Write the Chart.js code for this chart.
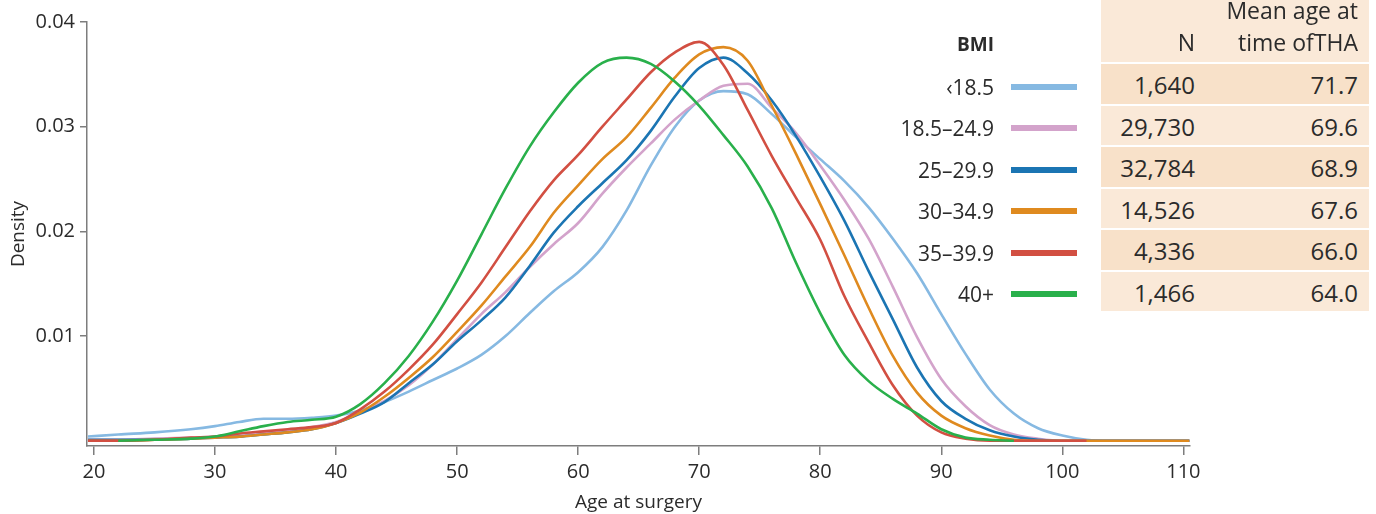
<!DOCTYPE html>
<html>
<head>
<meta charset="utf-8">
<script src="https://cdn.jsdelivr.net/npm/chart.js@4.4.1/dist/chart.umd.min.js"></script>
<style>
  body { margin: 0; background: #fff; }
  #wrap { position: relative; width: 1376px; height: 514px; font-family: 'Open Sans', sans-serif; color: #2b2b2b; }
  #c { position: absolute; left: 0; top: 0; }
  .lg-head { position: absolute; right: 382px; top: 28px; font-size: 19px; font-weight: bold; line-height: 32px; }
  .lg-row { position: absolute; left: 860px; width: 220px; height: 40px; display: flex; align-items: center; }
  .lg-row .lbl { width: 134px; text-align: right; font-size: 21px; }
  .lg-row .sw { margin-left: 17px; width: 66px; height: 6px; }
  .tb { position: absolute; left: 1101px; width: 268px; display: flex; font-size: 24px; }
  .tb .n { width: 94px; text-align: right; }
  .tb .m { width: 163px; text-align: right; }
  .tb-head { top: 0; height: 62px; background: #fae9d8; overflow: hidden; font-size: 23px; }
  .tb-head div { line-height: 32px; margin-top: -6px; }
</style>
</head>
<body>
<div id="wrap">
  <canvas id="c" width="1376" height="514"></canvas>
</div>
<script>
// ─── data ──────────────────────────────────────────────────────────────────
const ages = [19.5, 22, 25, 28, 30, 32, 34, 36, 38, 40, 42, 44, 46, 48, 50, 52, 54, 56, 58, 60,
  62, 64, 66, 68, 70, 72, 74, 76, 78, 80, 82, 84, 86, 88, 90, 92, 94, 96, 98, 100, 102, 104, 106, 108, 110.5];

const bmiUnder185 = [.0004, .0006, .0008, .0011, .0014, .0018, .0021, .0021, .0022, .0024, .0029, .0037, .0047, .0058, .0069, .0082, .0100, .0122, .0143, .0161,
  .0185, .0220, .0263, .0300, .0325, .0334, .0331, .0312, .0290, .0269, .0248, .0223, .0193, .0160, .0121, .0083, .0049, .0026, .0012, .0005, .0001, 0, 0, 0, 0];
const bmi185to249 = [.0001, .0001, .0002, .0003, .0004, .0006, .0008, .0010, .0013, .0018, .0027, .0038, .0053, .0073, .0097, .0121, .0142, .0166, .0188, .0208,
  .0236, .0261, .0284, .0307, .0325, .0339, .0341, .0318, .0294, .0263, .0230, .0193, .0147, .0099, .0059, .0033, .0015, .0006, .0002, 0, 0, 0, 0, 0, 0];
const bmi25to299 = [.0001, .0001, .0001, .0002, .0003, .0004, .0006, .0008, .0011, .0017, .0026, .0037, .0055, .0073, .0095, .0115, .0137, .0167, .0199, .0224,
  .0246, .0268, .0296, .0329, .0356, .0366, .0351, .0325, .0291, .0252, .0210, .0162, .0116, .0070, .0038, .0021, .0010, .0004, .0001, 0, 0, 0, 0, 0, 0];
const bmi30to349 = [0, 0, .0001, .0002, .0003, .0004, .0006, .0008, .0011, .0017, .0027, .0042, .0060, .0080, .0104, .0129, .0157, .0185, .0218, .0244,
  .0269, .0290, .0318, .0347, .0369, .0376, .0363, .0320, .0274, .0226, .0177, .0127, .0081, .0046, .0024, .0012, .0005, .0001, 0, 0, 0, 0, 0, 0, 0];
const bmi35to399 = [0, 0, .0001, .0003, .0004, .0007, .0009, .0011, .0013, .0017, .0030, .0047, .0068, .0092, .0121, .0151, .0185, .0219, .0249, .0273,
  .0300, .0326, .0352, .0371, .0381, .0359, .0316, .0272, .0232, .0192, .0138, .0094, .0053, .0024, .0008, .0002, 0, 0, 0, 0, 0, null, null, null, null];
const bmi40plus = [null, 0, .0001, .0002, .0004, .0009, .0014, .0018, .0020, .0023, .0035, .0055, .0081, .0114, .0153, .0197, .0241, .0281, .0314, .0342,
  .0361, .0366, .0360, .0343, .0320, .0292, .0262, .0222, .0170, .0122, .0082, .0057, .0040, .0026, .0011, .0003, .0001, 0, null, null, null, null, null, null, null];

const bmiGroups = ['‹18.5', '18.5–24.9', '25–29.9', '30–34.9', '35–39.9', '40+'];
const nCounts = ['1,640', '29,730', '32,784', '14,526', '4,336', '1,466'];
const meanAges = ['71.7', '69.6', '68.9', '67.6', '66.0', '64.0'];

const xTicks = [20, 30, 40, 50, 60, 70, 80, 90, 100, 110];
const yTicks = [0.01, 0.02, 0.03, 0.04];

// ─── styles ────────────────────────────────────────────────────────────────
const series = [bmiUnder185, bmi185to249, bmi25to299, bmi30to349, bmi35to399, bmi40plus];
const lineColors = ['#86b9e2', '#d3a3cb', '#1b75b3', '#df8a1f', '#d24f42', '#29b04b'];
const drawOrder = [6, 5, 4, 3, 2, 1];
const rowShades = ['#f8e1c9', '#fae9d8'];
const FONT = "'Open Sans', sans-serif";
const INK = '#2b2b2b';
const AXIS = '#7d7d7d';

// ─── legend + table (HTML) ────────────────────────────────────────────────
(function buildSide() {
  const wrap = document.getElementById('wrap');
  let html = '<div class="lg-head">BMI</div>' +
    '<div class="tb tb-head"><div class="n"><br>N</div><div class="m">Mean age at<br>time ofTHA</div></div>';
  bmiGroups.forEach(function(g, i) {
    const top = 64 + i * 41.5;
    html += '<div class="lg-row" style="top:' + (top + 2.5) + 'px">' +
      '<div class="lbl">' + g + '</div><div class="sw" style="background:' + lineColors[i] + '"></div></div>';
    html += '<div class="tb" style="top:' + top + 'px;height:39.5px;line-height:41px;background:' + rowShades[i % 2] + '">' +
      '<div class="n">' + nCounts[i] + '</div><div class="m">' + meanAges[i] + '</div></div>';
  });
  wrap.insertAdjacentHTML('beforeend', html);
})();

// ─── chart ─────────────────────────────────────────────────────────────────
new Chart(document.getElementById('c'), {
  type: 'line',
  data: {
    datasets: series.map(function(s, i) {
      return {
        label: bmiGroups[i],
        data: ages.map(function(a, j) { return { x: a, y: s[j] }; }),
        borderColor: lineColors[i],
        borderWidth: 2.6,
        pointRadius: 0,
        cubicInterpolationMode: 'monotone',
        fill: false,
        spanGaps: false,
        order: drawOrder[i],
      };
    }),
  },
  options: {
    responsive: false,
    animation: false,
    layout: { padding: { left: 0, right: 186, top: 22, bottom: 0 } },
    plugins: { legend: { display: false }, tooltip: { enabled: false } },
    scales: {
      x: {
        type: 'linear',
        min: 19.42,
        max: 110.55,
        afterFit: function(s) { s.height = 68; },
        afterBuildTicks: function(s) { s.ticks = xTicks.map(function(v) { return { value: v }; }); },
        grid: { drawOnChartArea: false, drawTicks: true, tickLength: 9, color: AXIS, lineWidth: 1.5 },
        border: { display: true, color: AXIS, width: 1.5 },
        ticks: { padding: 5, color: INK, maxRotation: 0, font: { family: FONT, size: 20 } },
        title: { display: true, text: 'Age at surgery', color: INK, font: { family: FONT, size: 19 }, padding: { top: 0, bottom: 0 } },
      },
      y: {
        type: 'linear',
        min: -0.0005,
        max: 0.04,
        afterFit: function(s) { s.width = 87; },
        afterBuildTicks: function(s) { s.ticks = yTicks.map(function(v) { return { value: v }; }); },
        grid: { drawOnChartArea: false, drawTicks: true, tickLength: 7, color: AXIS, lineWidth: 1.5 },
        border: { display: true, color: AXIS, width: 1.5 },
        ticks: {
          padding: 5, color: INK, font: { family: FONT, size: 20 },
          callback: function(v) { return v.toFixed(2); },
        },
        title: { display: true, text: 'Density', color: INK, font: { family: FONT, size: 19 }, padding: { top: 7, bottom: 0 } },
      },
    },
  },
});
</script>
</body>
</html>
